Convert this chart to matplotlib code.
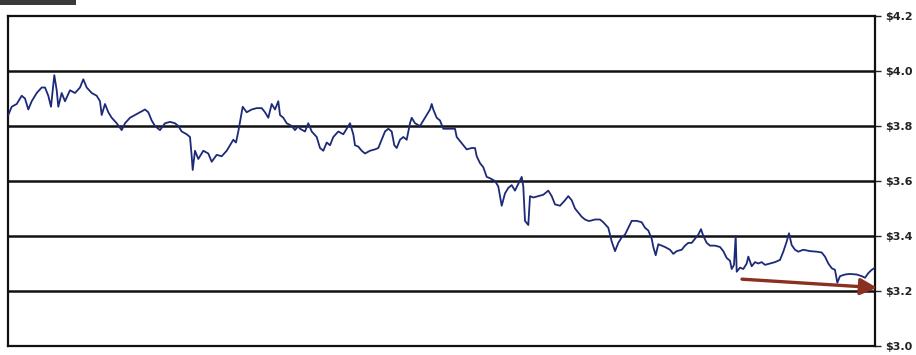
import matplotlib
matplotlib.use("Agg")
import matplotlib.pyplot as plt
from matplotlib.patches import Rectangle

# trading-day position and price in dollars
days = [0.3, 3.7, 8.7, 13.7, 17, 20.3, 23.7, 28.7, 33.7, 37, 40.3, 43, 46.3, 48.7, 50.3, 53.7, 57, 62, 67, 72, 75.3, 78.7, 83.7, 88.7, 92, 93.7, 97, 100.3, 103.7, 108.7, 113.7, 117, 122, 127, 132, 137, 140.3, 143.7, 147,
        152, 157, 162, 167, 170.3, 173.7, 178.7, 182, 183.7, 184.7, 187, 190.3, 195.3, 200.3, 203.7, 208.7, 213.7, 218.7, 222, 225.3, 228, 230.3, 232.7, 234.7, 238.7, 243.7, 248.7, 253.7, 257, 260.3, 263.7, 267, 270.3, 272, 275.3, 278.7, 283.7, 287, 290.3,
        292, 297, 300.3, 303.7, 308.7, 312, 315.3, 318.7, 322, 325.3, 330.3, 335.3, 338.7, 342, 345.3, 347, 350.3, 353.7, 357, 362, 367, 370.3, 373.7, 377, 380.3, 383.7, 386.3, 388.7, 392, 395.3, 398.7, 402, 403.7, 407, 412, 415.3, 418.7, 422, 423.7, 425.3, 428.7, 432, 435.3,
        437, 442, 447, 448.7, 452, 455.3, 458.7, 463.7, 467, 468.7, 472, 475.3, 478.7, 482, 487, 490.3, 493.7, 497, 500.3, 503.7, 507, 510.3, 513.7, 515.3, 517, 520.3, 522, 525.3, 530.3, 535.3, 540.3, 543.7, 547, 552, 557, 560.3, 563.7, 567, 570.3, 573.7, 577, 580.3,
        582, 587, 592, 595.3, 600.3, 603.7, 607, 610.3, 613.7, 617, 620.3, 623.7, 628.7, 633.7, 637, 640.3, 643.7, 645.3, 647.7, 650.3, 653.7, 657, 662, 665.3, 668.7, 673.7, 677, 680.3, 683.7, 687, 690.3, 693, 695.3, 698.7, 702, 707, 712, 715.3, 718.7, 722,
        723.7, 726, 727.7, 728.7, 732, 735.3, 738.7, 740.3, 743.7, 747, 750.3, 753.7, 757, 762, 767, 772, 775.3, 778.7, 781, 783.7, 787, 790.3, 795.3, 802, 808.7, 813.7, 817, 820.3, 823.7, 827, 829.3, 832, 837, 842, 848.7, 853.7, 857, 860.3, 863.7, 866.3]
prices = [3.84, 3.87, 3.88, 3.91, 3.90, 3.86, 3.89, 3.92, 3.94, 3.94, 3.91, 3.87, 3.985, 3.93, 3.87, 3.92, 3.89, 3.93, 3.92, 3.94, 3.97, 3.94, 3.92, 3.91, 3.89, 3.84, 3.88, 3.85, 3.83, 3.81, 3.785, 3.81, 3.83, 3.84, 3.85, 3.86, 3.85, 3.82, 3.80,
          3.785, 3.81, 3.815, 3.81, 3.80, 3.78, 3.77, 3.76, 3.69, 3.64, 3.71, 3.68, 3.71, 3.70, 3.67, 3.695, 3.69, 3.71, 3.73, 3.75, 3.74, 3.78, 3.83, 3.87, 3.85, 3.86, 3.865, 3.865, 3.85, 3.83, 3.88, 3.86, 3.89, 3.84, 3.83, 3.81, 3.80, 3.785, 3.80,
          3.79, 3.78, 3.81, 3.78, 3.76, 3.72, 3.71, 3.74, 3.73, 3.76, 3.78, 3.77, 3.79, 3.81, 3.77, 3.73, 3.725, 3.71, 3.70, 3.71, 3.715, 3.72, 3.75, 3.78, 3.79, 3.78, 3.73, 3.72, 3.75, 3.76, 3.75, 3.81, 3.83, 3.81, 3.80, 3.82, 3.84, 3.86, 3.88, 3.86, 3.83, 3.82, 3.79,
          3.79, 3.79, 3.79, 3.76, 3.745, 3.73, 3.715, 3.72, 3.72, 3.69, 3.665, 3.65, 3.615, 3.61, 3.60, 3.58, 3.51, 3.555, 3.575, 3.585, 3.565, 3.59, 3.615, 3.58, 3.455, 3.44, 3.545, 3.54, 3.545, 3.55, 3.565, 3.545, 3.515, 3.51, 3.53, 3.545, 3.53, 3.50, 3.485, 3.47, 3.46, 3.455,
          3.455, 3.46, 3.46, 3.45, 3.43, 3.38, 3.345, 3.375, 3.395, 3.405, 3.43, 3.455, 3.455, 3.45, 3.43, 3.42, 3.39, 3.36, 3.33, 3.37, 3.365, 3.36, 3.35, 3.335, 3.345, 3.35, 3.365, 3.375, 3.375, 3.39, 3.405, 3.425, 3.40, 3.375, 3.365, 3.365, 3.36, 3.345, 3.32, 3.31,
          3.28, 3.295, 3.40, 3.27, 3.285, 3.28, 3.30, 3.325, 3.29, 3.305, 3.30, 3.305, 3.295, 3.30, 3.305, 3.313, 3.343, 3.38, 3.41, 3.367, 3.35, 3.343, 3.35, 3.345, 3.343, 3.34, 3.325, 3.30, 3.283, 3.277, 3.23, 3.254, 3.26, 3.262, 3.26, 3.254, 3.248, 3.265, 3.277, 3.283]

y_ticks = [3.0, 3.2, 3.4, 3.6, 3.8, 4.0, 4.2]
y_labels = ["$3.0", "$3.2", "$3.4", "$3.6", "$3.8", "$4.0", "$4.2"]
trend_start = (734, 3.243)
trend_end = (869, 3.212)

fig = plt.figure(figsize=(9.16, 3.55), dpi=100)
ax = fig.add_axes([8 / 916, 1 - 346 / 355, 867 / 916, 330 / 355])

for yv in y_ticks[1:-1]:
    ax.axhline(yv, color="#111111", lw=1.8, zorder=1)

ax.plot(days, prices, color="#1c2a78", lw=1.3, zorder=3)

ax.annotate("", xy=trend_end, xytext=trend_start,
            arrowprops=dict(arrowstyle="-|>,head_length=1.0,head_width=0.5",
                            color="#8a3020", lw=2.4, shrinkA=0, shrinkB=0),
            annotation_clip=False, zorder=4)

ax.set_xlim(0, 867)
ax.set_ylim(3.0, 4.2)
ax.set_xticks([])
ax.yaxis.tick_right()
ax.set_yticks(y_ticks)
ax.set_yticklabels(y_labels)
ax.tick_params(axis="y", direction="out", length=4, width=1, pad=3,
               labelsize=8, colors="#222222")
for lab in ax.get_yticklabels():
    lab.set_fontweight("bold")
for sp in ax.spines.values():
    sp.set_color("#111111")
    sp.set_linewidth(1.6)

fig.patches.append(Rectangle((0, 1 - 5 / 355), 76 / 916, 5 / 355,
                             transform=fig.transFigure, facecolor="#3a3a3a",
                             edgecolor="none"))

fig.savefig("out.png", dpi=100)
